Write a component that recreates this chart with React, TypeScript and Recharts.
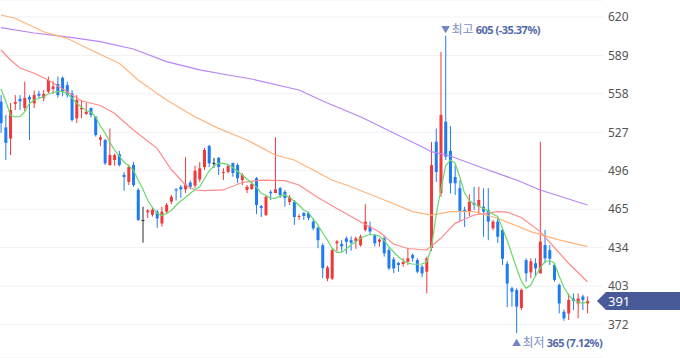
import React from "react";
import {
  ComposedChart,
  Bar,
  Line,
  XAxis,
  YAxis,
  CartesianGrid,
  ReferenceLine,
  ReferenceDot,
} from "recharts";

const FONT = "'Noto Sans', 'Noto Sans CJK KR', sans-serif";
const UP = "#f0393b";
const DOWN = "#1f7bf2";
const FLAT = "#2b2b2b";

// daily OHLC, oldest first
const opens = [
  551.7, 531, 522, 550, 554, 546.6, 555.5, 550.4, 558, 554.6,
  559.8, 562, 566, 571, 565, 558.5, 538.3, 545.6, 541.8, 546.6,
  539.6, 521, 520.8, 500.6, 504.7, 509.5, 492.7, 487, 500.6, 480.5,
  456.3, 462.5, 460.5, 463, 453.5, 463, 471, 481, 483, 481,
  486.4, 484, 489, 499, 516, 502.3, 506.4, 494.2, 495, 502.3,
  500.6, 488.5, 480.5, 481.3, 490, 467.6, 460.4, 479, 478, 482,
  479, 470.8, 471, 458.7, 462, 462, 455, 450, 436, 409,
  409, 437.5, 437, 441.5, 440, 439, 436, 448.2, 451, 444,
  438.7, 441.5, 432, 424.6, 421.6, 420.8, 422.7, 428, 424, 418.6,
  414.6, 433.7, 519.4, 478, 535.6, 512, 491, 481.9, 464.4, 463,
  469.8, 467, 467, 464.4, 449.6, 455, 448.2, 421, 401.2, 399.8,
  385.4, 424, 414, 421.4, 413.3, 436.1, 432, 420, 404, 382.3,
  381, 393, 389, 394.6, 389,
];
const highs = [
  557, 541, 550.6, 557, 557, 567.8, 557, 560.6, 560.6, 561,
  571.9, 568, 572, 572, 567.8, 561, 557, 553, 550.8, 547,
  540, 524.8, 521.6, 530, 510, 512, 495, 501, 503, 482,
  467, 465, 467, 464.5, 467, 470, 476.5, 482, 484.5, 507,
  488, 500, 503, 514.4, 516.8, 506.4, 507, 498, 500.6, 502.5,
  502, 494, 484.5, 487, 491, 468.4, 476.5, 480.5, 523, 483,
  480.5, 476.5, 472.4, 461, 462.7, 463, 457.6, 451, 437.5, 419.5,
  433.5, 440.2, 440, 443, 443, 443, 444.5, 469, 455, 445,
  441.5, 444, 434, 426.5, 422.4, 425.5, 433.5, 429.4, 425.4, 420,
  426.7, 519.2, 530, 591.8, 605, 532, 500.6, 488.5, 467, 477,
  483, 483, 481.9, 481.9, 456.3, 458, 450, 423, 402.5, 401.2,
  401, 425.4, 425.4, 425.4, 519.4, 448.2, 436, 421.4, 405, 384,
  397, 397, 397, 396, 394.6,
];
const lows = [
  526.5, 504.7, 508.7, 545, 545, 544.2, 520.8, 546.6, 554.4, 552,
  558.5, 558, 555, 556, 555, 535.6, 534.5, 538.5, 541, 539,
  523.5, 516, 500.6, 500, 500, 499.5, 480, 484.5, 483, 455.5,
  438, 458, 459, 450, 451, 461, 469, 472, 474, 478,
  481, 482, 487, 496.6, 499, 498.4, 492.6, 488.5, 494, 491.2,
  486, 484.5, 478, 480.5, 461, 458.7, 459.5, 472.4, 478, 474,
  467, 468.4, 452.3, 456.3, 456.3, 456, 448, 433.5, 409.5, 407,
  408, 431, 431, 429, 431.6, 433, 434.8, 447, 445, 435,
  434.8, 426.7, 416, 413.5, 414.6, 418.5, 420, 422.7, 413.3, 410,
  397, 431.3, 487, 475, 504.7, 477.8, 476.5, 455, 450.7, 459.5,
  464.4, 460.4, 442.8, 440, 448, 437.7, 420, 386, 386.4, 365,
  383.7, 406.5, 409.3, 410.6, 413, 421.4, 420, 406.5, 381, 375,
  375.6, 383.7, 377, 383.7, 381,
];
const closes = [
  534.3, 518.5, 545, 551.5, 552, 554.7, 553.5, 557, 556.5, 558,
  569.2, 564, 557, 560, 557, 537, 553, 546.8, 543.6, 541,
  524.8, 523, 502, 508.7, 508.7, 500.6, 491, 499, 484.5, 456.3,
  456.3, 464, 464.5, 457.5, 463, 468.5, 475, 480, 481, 485,
  483, 496, 498, 512.7, 502, 502.3, 499, 495, 500, 494.2,
  490, 492.6, 483, 485.3, 468.4, 466, 475, 477.8, 481, 476.5,
  474, 474.8, 458.7, 459.5, 459.5, 458, 449.6, 440, 417.5, 418,
  432, 439, 435, 438.7, 438, 441.5, 443, 455, 447, 437.5,
  440.5, 429.4, 417.3, 417.3, 420, 422.4, 425.4, 425.4, 414.6, 413.3,
  425.4, 500.6, 495, 541, 507.3, 485.9, 485.9, 463, 463, 471,
  468.4, 472.4, 463, 455, 455, 442.8, 425, 405, 398.5, 386.4,
  400, 413.3, 423, 417.3, 438.9, 425.4, 425, 408, 389, 377,
  391.8, 391, 393, 391.8, 391,
];

// moving averages
const ma5 = [
  561.9, 552.3, 541, 539.4, 539.6, 543.4, 550.2, 553.1, 554.3, 555.7,
  557.9, 559.1, 559.8, 559.8, 558.3, 554.7, 550.4, 547.4, 544.6, 543.4,
  539.4, 532.1, 526.5, 519.2, 512.7, 507.9, 503, 499.8, 496.6, 488.5,
  481.3, 472.4, 466.4, 461.7, 459.9, 461.5, 464, 468, 471.6, 474.4,
  477.7, 480.9, 482.9, 489.4, 495.8, 499.8, 501.9, 502, 500.9, 498.6,
  495.6, 492.6, 489.4, 486.1, 482.9, 478.1, 476.1, 474, 473.8, 475.6,
  476.5, 474.4, 471.6, 468.4, 464.4, 462.3, 457.1, 452.3, 445.8, 440.2,
  433.7, 430.1, 430.1, 432.9, 436.1, 438.8, 441.4, 443.4, 444.6, 444.2,
  443.4, 439.8, 434.9, 430.5, 426.7, 423.6, 421.6, 420.8, 420.6, 420.8,
  422.4, 433.7, 460.3, 480.5, 499.8, 504.7, 502.3, 491, 478.1, 472,
  469.2, 467.6, 465.6, 463.5, 461.1, 459.1, 449.8, 440.2, 428.9, 417.6,
  407.1, 401.2, 403.8, 411.1, 417.6, 422.8, 423.6, 421.6, 411.1, 402.3,
  395.8, 391.8, 390.2, 389.1, 390.4,
];
// [day index, value]
const ma20: [number, number][] = [
  [0, 593.4], [2, 585.3], [4, 578.9], [7, 574.6], [10, 569.2], [14, 559.8],
  [17, 552.4], [21, 548.6], [24, 542.3], [28, 528.9], [33, 514.1], [36, 497],
  [39, 484.5], [41, 480.5], [43, 480], [47, 480.5], [51, 486.5], [55, 488.5],
  [60, 488], [63, 484.5], [67, 474.5], [71, 465.6], [76, 454.9], [80, 446.6],
  [83, 436.9], [86, 433.3], [90, 432.1], [93, 441.5], [96, 453.6], [100, 460.3],
  [105, 463], [107, 462.7], [110, 458.3], [114, 446.9], [117, 434.1], [120, 421.4],
  [124, 406.5],
];
const ma60: [number, number][] = [
  [0, 621.6], [3, 619], [9, 608.1], [14, 602.8], [19, 593.4], [25, 582.7],
  [29, 569.2], [35, 553.1], [41, 539.6], [46, 530.2], [52, 520.8], [58, 508.7],
  [62, 504.7], [66, 496.6], [70, 488.5], [74, 483.1], [82, 471], [87, 463],
  [91, 460.3], [95, 463], [100, 463], [105, 457.7], [112, 446.9], [118, 440.2],
  [124, 434.8],
];
const ma120: [number, number][] = [
  [0, 611.4], [7, 607.1], [14, 603.9], [21, 600.1], [28, 594.2], [35, 584],
  [42, 577.3], [48, 573.2], [53, 570], [63, 561.1], [69, 550.6], [76, 539.6],
  [83, 526.5], [89, 515.4], [91, 511.4], [95, 507.9], [103, 496.6], [109, 488.5],
  [114, 480.5], [124, 468.4],
];

const yTicks = [372, 403, 434, 465, 496, 527, 558, 589, 620];
const highMark = { i: 94, value: 605, label: "최고", text: "605 (-35.37%)" };
const lowMark = { i: 109, value: 365, label: "최저", text: "365 (7.12%)" };

type Row = {
  i: number;
  open: number;
  high: number;
  low: number;
  close: number;
  ma5: number;
  ma20: number | null;
  ma60: number | null;
  ma120: number | null;
};

const rows: Row[] = opens.map((open, i) => ({
  i,
  open,
  high: highs[i],
  low: lows[i],
  close: closes[i],
  ma5: ma5[i],
  ma20: null,
  ma60: null,
  ma120: null,
}));
ma20.forEach(([i, v]) => (rows[i].ma20 = v));
ma60.forEach(([i, v]) => (rows[i].ma60 = v));
ma120.forEach(([i, v]) => (rows[i].ma120 = v));

const lastClose = closes[closes.length - 1];

function Candle(props: any) {
  const { x, y, width, height, payload } = props;
  if (!payload) return null;
  const { open, close, high, low } = payload;
  const top = Math.min(y, y + height);
  const h = Math.abs(height);
  const ppu = high > low ? h / (high - low) : 0;
  const cx = x + width / 2;
  const bTop = top + (high - Math.max(open, close)) * ppu;
  const bBot = top + (high - Math.min(open, close)) * ppu;
  const color = close > open ? UP : close < open ? DOWN : FLAT;
  return (
    <g>
      <line x1={cx} x2={cx} y1={top} y2={top + h} stroke={color} strokeWidth={1} />
      <rect x={cx - 1.5} y={bTop} width={3} height={Math.max(bBot - bTop, 1)} fill={color} />
    </g>
  );
}

function PriceTag(props: any) {
  const { viewBox } = props;
  const y = viewBox.y;
  const x0 = viewBox.x + viewBox.width - 6;
  return (
    <g>
      <path
        d={`M${x0},${y} L${x0 + 9},${y - 9} L680,${y - 9} L680,${y + 9} L${x0 + 9},${y + 9} Z`}
        fill="#485b98"
      />
      <text x={x0 + 11} y={y} dy="0.36em" fill="#fff" fontSize={13} fontFamily={FONT}>
        {Math.round(lastClose)}
      </text>
    </g>
  );
}

function MarkLabel(props: any) {
  const { viewBox, mark, below } = props;
  const cx = viewBox.x;
  const cy = viewBox.y;
  const base = below ? cy + 14 : cy - 2;
  return (
    <g fontFamily={FONT}>
      <text x={cx} y={base - 1} textAnchor="middle" fontSize={9} fill="#7585bf">
        {below ? "▲" : "▼"}
      </text>
      <text x={cx + 6} y={base} fontSize={12}>
        <tspan fill="#7f8dc2">{mark.label}</tspan>
        <tspan dx={2} fill="#5468a8" fontWeight="bold" fontSize={11} letterSpacing={-0.5}>
          {mark.text}
        </tspan>
      </text>
    </g>
  );
}

export default function App() {
  return (
    <div style={{ position: "fixed", left: 0, top: 0, background: "#fff" }}>
      <ComposedChart
        width={680}
        height={358}
        data={rows}
        margin={{ top: 0, right: 0, bottom: 0, left: -1.4 }}
      >
        <CartesianGrid vertical={false} stroke="#f1f1f7" />
        <XAxis dataKey="i" type="category" hide padding={{ left: 0, right: 13.15 }} />
        <YAxis
          orientation="right"
          domain={[345, 633.7]}
          ticks={yTicks}
          interval={0}
          allowDataOverflow
          width={77}
          axisLine={false}
          tickLine={false}
          tickSize={0}
          tickMargin={5}
          tick={{ fill: "#555", fontSize: 12, fontFamily: FONT }}
        />
        <Bar
          dataKey={(d: Row) => [d.low, d.high]}
          barSize={3}
          shape={(p: any) => <Candle {...p} />}
          activeBar={false}
          isAnimationActive={false}
        />
        <Line dataKey="ma120" type="linear" stroke="#b985f6" strokeWidth={1.2} dot={false} activeDot={false} connectNulls isAnimationActive={false} />
        <Line dataKey="ma60" type="linear" stroke="#ffb47c" strokeWidth={1.2} dot={false} activeDot={false} connectNulls isAnimationActive={false} />
        <Line dataKey="ma20" type="linear" stroke="#ff8b8b" strokeWidth={1.2} dot={false} activeDot={false} connectNulls isAnimationActive={false} />
        <Line dataKey="ma5" type="linear" stroke="#6bd86b" strokeWidth={1.2} dot={false} activeDot={false} isAnimationActive={false} />
        <ReferenceLine
          y={lastClose}
          stroke="none"
          label={(p: any) => <PriceTag {...p} />}
        />
        <ReferenceDot
          x={highMark.i}
          y={highMark.value}
          r={0}
          stroke="none"
          label={(p: any) => <MarkLabel {...p} mark={highMark} />}
        />
        <ReferenceDot
          x={lowMark.i}
          y={lowMark.value}
          r={0}
          stroke="none"
          label={(p: any) => <MarkLabel {...p} mark={lowMark} below />}
        />
      </ComposedChart>
    </div>
  );
}
